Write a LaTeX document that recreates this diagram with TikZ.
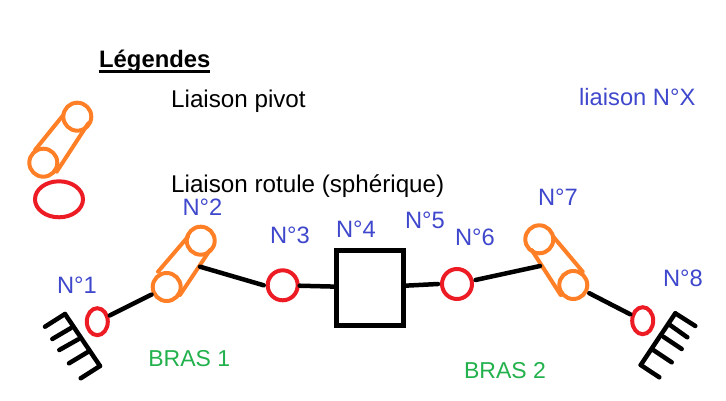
\documentclass[tikz,border=0pt]{standalone}
\usepackage{fontspec}
\setmainfont{Liberation Sans}
\usetikzlibrary{shapes.geometric, positioning}

\definecolor{rotuleRed}{HTML}{ED1C24}
\definecolor{pivotOrange}{HTML}{FF7F27}
\definecolor{labelBlue}{HTML}{3F48CC}
\definecolor{brasGreen}{HTML}{22B14C}

\begin{document}
\begin{tikzpicture}[
    x=1pt, y=-1pt,
    link/.style={line width=4.5pt, line cap=round, black},
    rotule/.style={circle, draw=rotuleRed, line width=4pt, minimum size=30pt, inner sep=0pt},
    rotuleel/.style={ellipse, draw=rotuleRed, line width=4pt, minimum width=21pt, minimum height=27pt, inner sep=0pt},
    pivot/.style={circle, draw=pivotOrange, line width=4pt, minimum size=28pt, inner sep=0pt},
    pivotside/.style={draw=pivotOrange, line width=4pt, line cap=round},
    numlabel/.style={anchor=base, inner sep=0pt, text=labelBlue, font=\fontsize{23.7}{28}\selectfont},
    armlabel/.style={anchor=base, inner sep=0pt, text=brasGreen, font=\fontsize{23}{27}\selectfont},
    legendtext/.style={anchor=base west, inner sep=0pt, font=\fontsize{24.2}{28}\selectfont},
]
    \useasboundingbox (0,0) rectangle (726,401);

    \node[legendtext, font=\fontsize{23.8}{28}\selectfont\bfseries] (leg) at (99,67.5) {Légendes};
    \draw[line width=3pt] (98.5,71.5) -- (210,71.5);
    \node[legendtext] (legpivot) at (171,108) {Liaison pivot};
    \node[legendtext] (legrotule) at (171,193) {Liaison rotule (sphérique)};
    \node[numlabel, anchor=base west] (legnum) at (579,106) {liaison N°X};

    \node[pivot] (legp1) at (77.3,116.7) {};
    \node[pivot] (legp2) at (43.3,162.7) {};
    \draw[pivotside] (63.3,115) -- (35,150);
    \draw[pivotside] (88.3,123.3) -- (56.7,171.7);
    \node[rotuleel, minimum width=48pt, minimum height=36pt] (legr) at (59,199.3) {};

    \node[rotuleel] (j1) at (97.3,321.7) {};
    \node[pivot] (j2a) at (166.7,287) {};
    \node[pivot] (j2b) at (200.7,240.7) {};
    \draw[pivotside] (158,271.7) -- (188,236.7);
    \draw[pivotside] (180,295) -- (210,250);
    \coordinate (j2m) at (200,266.7);
    \node[rotule] (j3) at (282.7,285.3) {};
    \node[draw, line width=5pt, minimum width=67pt, minimum height=75pt, inner sep=0pt] (j4) at (370,287.5) {};
    \node[rotule] (j6) at (457,284) {};
    \node[pivot] (j7a) at (539.3,239.3) {};
    \node[pivot] (j7b) at (573.3,285) {};
    \draw[pivotside] (553.3,236.7) -- (582.7,271.7);
    \draw[pivotside] (531.7,250) -- (560.7,295);
    \coordinate (j7m) at (540,266);
    \node[rotuleel] (j8) at (642.7,320.7) {};

    \draw[link, shorten <=1pt, shorten >=1pt] (j1) -- (j2a);
    \draw[link] (j2m) -- ([xshift=-2pt]j3.west);
    \draw[link] (j3) -- (j4);
    \draw[link] (j4) -- ([xshift=-2pt]j6.west);
    \draw[link, shorten <=2pt] (j6) -- (j7m);
    \draw[link, shorten <=2pt, shorten >=1pt] (j7b) -- (j8);

    \draw[link] (65,314) -- (100,366);
    \draw[link] (65,314) -- (45,326.7);
    \draw[link] (71,328) -- (52.3,339);
    \draw[link] (78.3,339.3) -- (59.3,350);
    \draw[link] (88.3,351.7) -- (69,363.3);
    \draw[link] (100,366) -- (80.7,378.3);

    \draw[link] (675.3,313.3) -- (640.7,365);
    \draw[link] (675.3,313.3) -- (695.3,326);
    \draw[link] (670,325) -- (687.3,337.3);
    \draw[link] (663.3,336.7) -- (681.7,349);
    \draw[link] (653.3,350) -- (671.7,362.3);
    \draw[link] (640.7,365) -- (659.3,377.3);

    \node[numlabel] (n1) at (77,293.5) {N°1};
    \node[numlabel] (n2) at (202.5,215.5) {N°2};
    \node[numlabel] (n3) at (290,243.5) {N°3};
    \node[numlabel] (n4) at (356,237.5) {N°4};
    \node[numlabel] (n5) at (425,228.5) {N°5};
    \node[numlabel] (n6) at (475,245.5) {N°6};
    \node[numlabel] (n7) at (558,205.5) {N°7};
    \node[numlabel] (n8) at (683,286.5) {N°8};
    \node[armlabel] (bras1) at (189.3,366.5) {BRAS 1};
    \node[armlabel] (bras2) at (505,378.5) {BRAS 2};
\end{tikzpicture}
\end{document}
